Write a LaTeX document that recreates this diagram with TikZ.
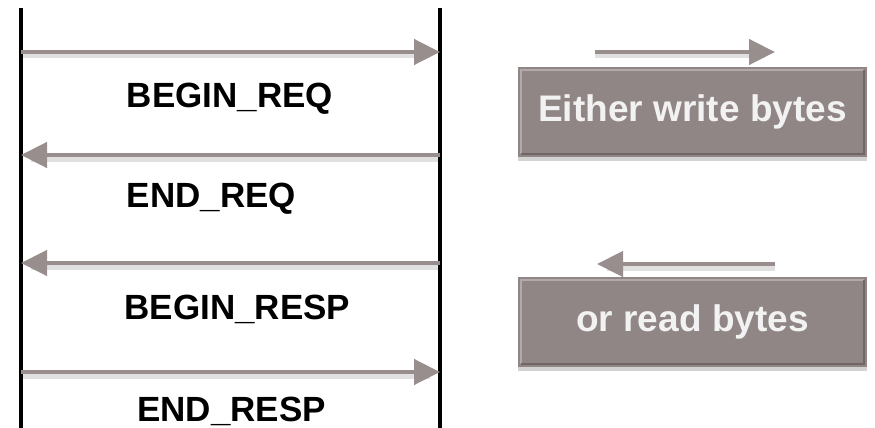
\documentclass[tikz,border=0pt]{standalone}
\usepackage{fontspec}
\setmainfont{Liberation Sans}
\usetikzlibrary{arrows.meta,shadows}
\definecolor{msggray}{RGB}{152,142,142}
\definecolor{boxgray}{RGB}{145,134,134}
\definecolor{boxlight}{RGB}{178,170,170}
\definecolor{boxdark}{RGB}{112,102,102}
\definecolor{boxtext}{RGB}{242,242,242}
\tikzset{
  lifeline/.style={line width=4pt,black},
  msg/.style={line width=4.5pt,msggray,-{Triangle[length=26pt,width=25pt]}},
  msgshadow/.style={line width=5pt,black,opacity=0.12,shorten >=10pt},
  msglabel/.style={font=\bfseries\fontsize{35}{40}\selectfont,text=black,inner sep=0pt,anchor=base},
  bytebox/.style={fill=boxgray,minimum width=349pt,minimum height=90pt,inner sep=0pt,
    font=\bfseries\fontsize{37}{42}\selectfont,text=boxtext,
    drop shadow={shadow xshift=0pt,shadow yshift=-4pt,opacity=0.35}},
}
\begin{document}
\begin{tikzpicture}[x=1pt,y=-1pt]
\useasboundingbox (0,0) rectangle (875,428);
% lifelines
\coordinate (ltop) at (21,8);  \coordinate (lbot) at (21,428);
\coordinate (rtop) at (440,8); \coordinate (rbot) at (440,428);
\draw[lifeline] (ltop) -- (lbot);
\draw[lifeline] (rtop) -- (rbot);
% message anchor points on the lifelines
\coordinate (l1) at (21,52);  \coordinate (r1) at (440,52);
\coordinate (l2) at (21,155); \coordinate (r2) at (440,155);
\coordinate (l3) at (21,263); \coordinate (r3) at (440,263);
\coordinate (l4) at (21,372); \coordinate (r4) at (440,372);
% soft shadows under the messages
\draw[msgshadow] ([yshift=-4pt]l1) -- ([yshift=-4pt]r1);
\draw[msgshadow] ([yshift=-4pt]r2) -- ([yshift=-4pt]l2);
\draw[msgshadow] ([yshift=-4pt]r3) -- ([yshift=-4pt]l3);
\draw[msgshadow] ([yshift=-4pt]l4) -- ([yshift=-4pt]r4);
% messages
\draw[msg] (l1) -- (r1);
\draw[msg] (r2) -- (l2);
\draw[msg] (r3) -- (l3);
\draw[msg] (l4) -- (r4);
% message labels (placed on their baselines)
\node[msglabel] (breq)  at (230,107)   {BEGIN\_REQ};
\node[msglabel] (ereq)  at (211.5,207) {END\_REQ};
\node[msglabel] (bresp) at (237.5,319) {BEGIN\_RESP};
\node[msglabel] (eresp) at (231.5,421) {END\_RESP};
% legend boxes
\node[bytebox] (wbox) at (692.5,112) {Either write bytes};
\node[bytebox] (rbox) at (692.5,322) {or read bytes};
% bevel edges
\foreach \b in {wbox,rbox}{
  \draw[boxlight,line width=1.5pt] ([xshift=3pt,yshift=3pt]\b.south west) -- ([xshift=3pt,yshift=-3pt]\b.north west) -- ([xshift=-3pt,yshift=-3pt]\b.north east);
  \draw[boxdark,line width=1.5pt] ([xshift=-3pt,yshift=-3pt]\b.north east) -- ([xshift=-3pt,yshift=3pt]\b.south east) -- ([xshift=3pt,yshift=3pt]\b.south west);
}
% legend arrows
\coordinate (wa) at (595,52); \coordinate (wb) at (775,52);
\coordinate (ra) at (775,264); \coordinate (rb) at (597,264);
\draw[msgshadow] ([yshift=-4pt]wa) -- ([yshift=-4pt]wb);
\draw[msgshadow] ([yshift=-4pt]ra) -- ([yshift=-4pt]rb);
\draw[msg] (wa) -- (wb);
\draw[msg] (ra) -- (rb);
\end{tikzpicture}
\end{document}
